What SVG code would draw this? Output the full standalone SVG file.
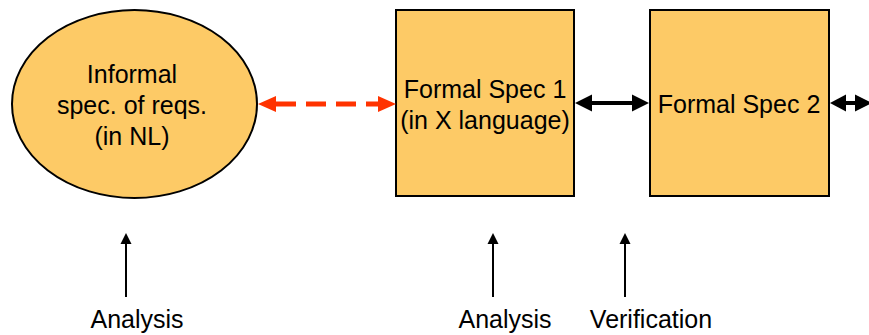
<svg xmlns="http://www.w3.org/2000/svg" width="869" height="335" viewBox="0 0 869 335">
  <style>
    .node { fill: #FDCA66; stroke: #000; stroke-width: 2; }
    .lbl { font-family: "Liberation Sans", Arial, sans-serif; font-size: 25px; fill: #000; text-anchor: middle; }
    .red { stroke: #FF3300; stroke-width: 5; fill: none; stroke-dasharray: 20 10; }
    .redhead { fill: #FF3300; }
    .blk { stroke: #000; stroke-width: 4; fill: none; }
    .blkhead { fill: #000; }
    .up { stroke: #000; stroke-width: 2; fill: none; }
  </style>

  <!-- nodes -->
  <g id="informal-spec">
    <ellipse class="node" cx="134.5" cy="104" rx="122.5" ry="94"/>
    <text class="lbl" x="132" y="83">Informal</text>
    <text class="lbl" x="132" y="114">spec. of reqs.</text>
    <text class="lbl" x="132" y="145">(in NL)</text>
  </g>
  <g id="formal-spec-1">
    <rect class="node" x="396" y="10" width="178" height="186"/>
    <text class="lbl" x="485" y="98">Formal Spec 1</text>
    <text class="lbl" x="485" y="129">(in X language)</text>
  </g>
  <g id="formal-spec-2">
    <rect class="node" x="650" y="10" width="179" height="186"/>
    <text class="lbl" x="739" y="113">Formal Spec 2</text>
  </g>

  <!-- connectors -->
  <g id="connectors">
    <!-- dashed two-way link: informal spec <-> formal spec 1 -->
    <line class="red" x1="276" y1="104" x2="378" y2="104"/>
    <path class="redhead" d="M258,104 L276,96 L276,112 Z"/>
    <path class="redhead" d="M396,104 L378,96 L378,112 Z"/>

    <!-- formal spec 1 <-> formal spec 2 -->
    <line class="blk" x1="590" y1="103" x2="634" y2="103"/>
    <path class="blkhead" d="M575,103 L592,94.5 L592,111.5 Z"/>
    <path class="blkhead" d="M649,103 L632,94.5 L632,111.5 Z"/>

    <!-- formal spec 2 <-> next (continues past the edge) -->
    <line class="blk" x1="845" y1="103" x2="858" y2="103"/>
    <path class="blkhead" d="M830,103 L846,94.5 L846,111.5 Z"/>
    <path class="blkhead" d="M872,103 L855,94.5 L855,111.5 Z"/>

    <!-- activity pointers -->
    <line class="up" x1="126" y1="297" x2="126" y2="240"/>
    <path class="blkhead" d="M126,233 L131.5,244 L120.5,244 Z"/>
    <line class="up" x1="493" y1="297" x2="493" y2="240"/>
    <path class="blkhead" d="M493,233 L498.5,244 L487.5,244 Z"/>
    <line class="up" x1="625" y1="297" x2="625" y2="240"/>
    <path class="blkhead" d="M625,233 L630.5,244 L619.5,244 Z"/>
  </g>

  <!-- activity labels -->
  <g id="labels">
    <text class="lbl" x="137" y="328">Analysis</text>
    <text class="lbl" x="505" y="328">Analysis</text>
    <text class="lbl" x="651" y="328">Verification</text>
  </g>
</svg>
